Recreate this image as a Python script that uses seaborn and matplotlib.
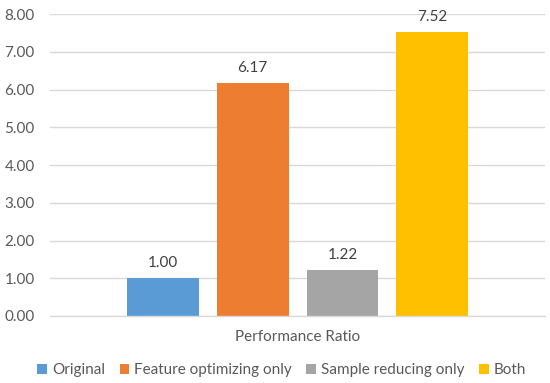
import matplotlib
matplotlib.use("Agg")
import matplotlib.pyplot as plt
import seaborn as sns
import pandas as pd
from matplotlib.patches import Patch

series = ["Original", "Feature optimizing only", "Sample reducing only", "Both"]
values = [1.00, 6.17, 1.22, 7.52]
category = ["Performance Ratio"]
colors = ["#5B9BD5", "#ED7D31", "#A5A5A5", "#FFC000"]
yticks = [0, 1, 2, 3, 4, 5, 6, 7, 8]

sns.set_theme(style="white")
plt.rcParams["font.family"] = ["Lato", "DejaVu Sans"]

df = pd.DataFrame({"cat": category * len(series), "series": series, "value": values})

fig = plt.figure(figsize=(5.5, 3.83), dpi=100)
ax = fig.add_axes([0.091, 0.175, 0.9, 0.788])

sns.barplot(data=df, x="cat", y="value", hue="series", hue_order=series,
            palette=colors, width=0.725, gap=0.2, ax=ax, legend=False,
            saturation=1, edgecolor="none", linewidth=0)

ax.set_ylim(0, 8)
ax.set_xlim(-0.5, 0.5)
ax.set_yticks(yticks)
ax.set_yticklabels([f"{v:.2f}" for v in yticks])
ax.yaxis.grid(True, color="#D9D9D9", linewidth=1)
ax.set_axisbelow(True)
for s in ["top", "right", "left"]:
    ax.spines[s].set_visible(False)
ax.spines["bottom"].set_color("#D9D9D9")
ax.spines["bottom"].set_linewidth(1)
ax.tick_params(axis="both", length=0, labelsize=11, colors="#595959", pad=11)
ax.tick_params(axis="x", pad=10)
ax.set_xlabel("")
ax.set_ylabel("")

for cont in ax.containers:
    ax.bar_label(cont, fmt="%.2f", padding=6, fontsize=11, color="#404040")

handles = [Patch(facecolor=c, edgecolor="none") for c in colors]
fig.legend(handles, series, loc="center", bbox_to_anchor=(0.512, 0.034), ncol=4,
           frameon=False, fontsize=11, handlelength=0.65, handleheight=0.65,
           handletextpad=0.3, columnspacing=0.95, labelcolor="#595959")

fig.savefig("out.png", dpi=100)
